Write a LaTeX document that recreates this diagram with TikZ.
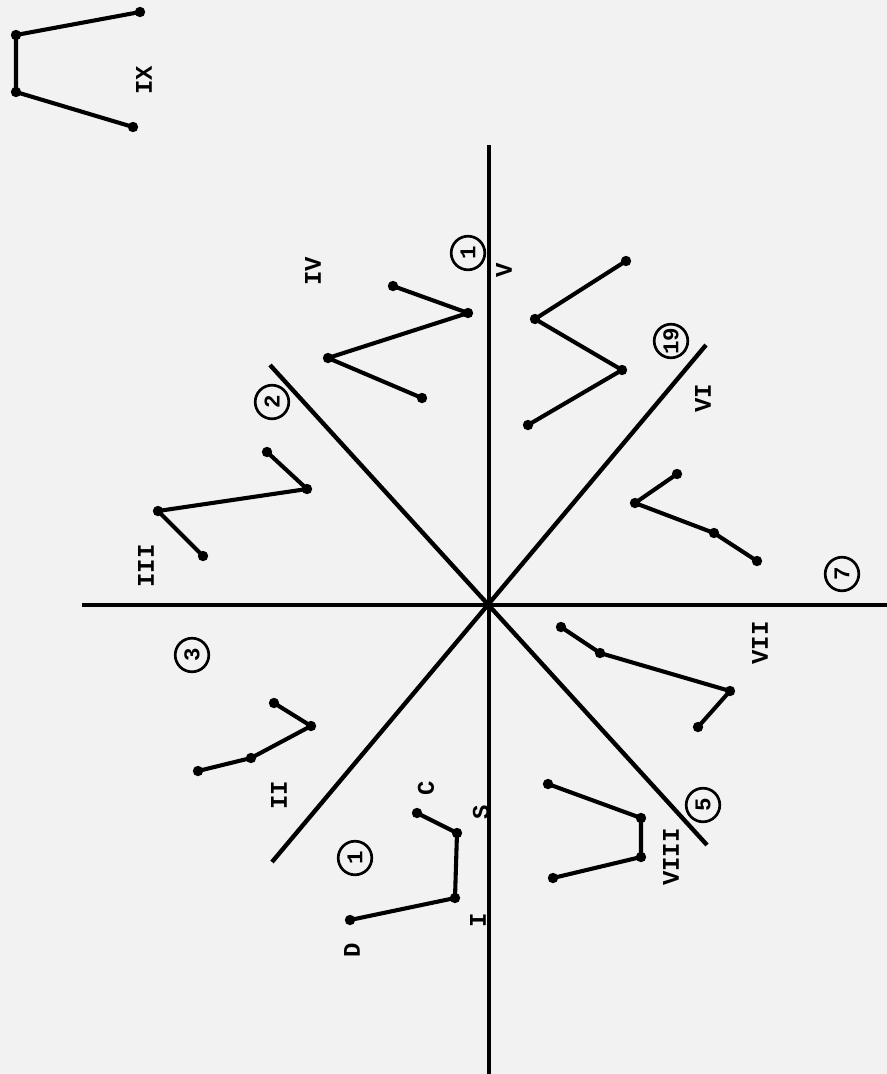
\documentclass[tikz,border=0pt]{standalone}
\usepackage{fontspec}
\setmonofont{Liberation Mono}
\begin{document}
\begin{tikzpicture}[x=0.025cm, y=-0.025cm,
        font=\ttfamily\bfseries\fontsize{17}{17}\selectfont,
        axis/.style={line width=3.1pt, line cap=butt},
        arm/.style={line width=2.9pt, line join=round, line cap=round},
        dot/.style={circle, fill=black, inner sep=0pt, minimum size=0.26cm},
        lab/.style={rotate=90, inner sep=0pt},
        num/.style={circle, draw, line width=1.9pt, rotate=90, minimum size=0.84cm,
            inner sep=0pt, font=\ttfamily\bfseries\fontsize{16}{16}\selectfont}]

        % paper
        \fill[black!5] (0,0) rectangle (887,1074);
        \useasboundingbox (0,0) rectangle (887,1074);

        % -----------------------
        % Axes
        % -----------------------
        \coordinate (o) at (489,605);
        \coordinate (west) at (82,605);
        \coordinate (east) at (887,605);
        \coordinate (north) at (489,145);
        \coordinate (south) at (489,1074);
        \coordinate (nw) at (270,365);
        \coordinate (se) at (707,845);
        \coordinate (sw) at (272,862);
        \coordinate (ne) at (706,345);
        \draw[axis] (west) -- (east);
        \draw[axis] (north) -- (south);
        \draw[axis] (nw) -- (se);
        \draw[axis] (sw) -- (ne);

        % -----------------------
        % Figure IX
        % -----------------------
        \node[dot] (ix1) at (140,12) {};
        \node[dot] (ix2) at (16,35) {};
        \node[dot] (ix3) at (16,92) {};
        \node[dot] (ix4) at (133,127) {};
        \draw[arm] (ix1.center) -- (ix2.center) -- (ix3.center) -- (ix4.center);
        \node[lab] (labix) at (144,80) {IX};

        % -----------------------
        % Figure IV
        % -----------------------
        \node[dot] (iv1) at (393,286) {};
        \node[dot] (iv2) at (468,313) {};
        \node[dot] (iv3) at (328,358) {};
        \node[dot] (iv4) at (422,398) {};
        \draw[arm] (iv1.center) -- (iv2.center) -- (iv3.center) -- (iv4.center);
        \node[lab] (labiv) at (313,271) {IV};
        \node[lab] (labv) at (504,270) {V};
        \node[num] (n1a) at (468,253) {1};

        % -----------------------
        % Figure III
        % -----------------------
        \node[dot] (iii1) at (267,452) {};
        \node[dot] (iii2) at (307,489) {};
        \node[dot] (iii3) at (158,511) {};
        \node[dot] (iii4) at (203,556) {};
        \draw[arm] (iii1.center) -- (iii2.center) -- (iii3.center) -- (iii4.center);
        \node[lab] (labiii) at (146,566) {III};
        \node[num] (n2) at (272,402) {2};
        \node[num] (n3) at (192,655) {3};

        % -----------------------
        % Figure II
        % -----------------------
        \node[dot] (ii1) at (274,703) {};
        \node[dot] (ii2) at (311,726) {};
        \node[dot] (ii3) at (251,758) {};
        \node[dot] (ii4) at (198,771) {};
        \draw[arm] (ii1.center) -- (ii2.center) -- (ii3.center) -- (ii4.center);
        \node[lab] (labii) at (279,795) {II};

        % -----------------------
        % Figure I
        % -----------------------
        \node[dot] (i1) at (417,813) {};
        \node[dot] (i2) at (457,833) {};
        \node[dot] (i3) at (455,898) {};
        \node[dot] (i4) at (350,920) {};
        \draw[arm] (i1.center) -- (i2.center) -- (i3.center) -- (i4.center);
        \node[lab] (labc) at (426,788) {C};
        \node[lab] (labs) at (481,812) {S};
        \node[lab] (labi) at (478,920) {I};
        \node[lab] (labd) at (352,950) {D};
        \node[num] (n1b) at (355,858) {1};

        % -----------------------
        % Figure VI
        % -----------------------
        \node[dot] (vi1) at (626,261) {};
        \node[dot] (vi2) at (535,319) {};
        \node[dot] (vi3) at (622,370) {};
        \node[dot] (vi4) at (528,425) {};
        \draw[arm] (vi1.center) -- (vi2.center) -- (vi3.center) -- (vi4.center);
        \node[lab] (labvi) at (703,398) {VI};
        \node[num] (n19) at (671,341) {19};

        % -----------------------
        % Figure VII
        % -----------------------
        \node[dot] (vii1) at (677,474) {};
        \node[dot] (vii2) at (635,503) {};
        \node[dot] (vii3) at (714,533) {};
        \node[dot] (vii4) at (757,561) {};
        \draw[arm] (vii1.center) -- (vii2.center) -- (vii3.center) -- (vii4.center);
        \node[lab] (labvii) at (760,643) {VII};
        \node[num] (n7) at (842,574) {7};

        % -----------------------
        % Figure VIII (two arms)
        % -----------------------
        \node[dot] (viiia1) at (561,627) {};
        \node[dot] (viiia2) at (600,653) {};
        \node[dot] (viiia3) at (730,691) {};
        \node[dot] (viiia4) at (698,727) {};
        \draw[arm] (viiia1.center) -- (viiia2.center) -- (viiia3.center) -- (viiia4.center);
        \node[dot] (viii1) at (548,784) {};
        \node[dot] (viii2) at (641,818) {};
        \node[dot] (viii3) at (641,857) {};
        \node[dot] (viii4) at (553,878) {};
        \draw[arm] (viii1.center) -- (viii2.center) -- (viii3.center) -- (viii4.center);
        \node[lab] (labviii) at (671,857) {VIII};
        \node[num] (n5) at (703,805) {5};

    \end{tikzpicture}
\end{document}
